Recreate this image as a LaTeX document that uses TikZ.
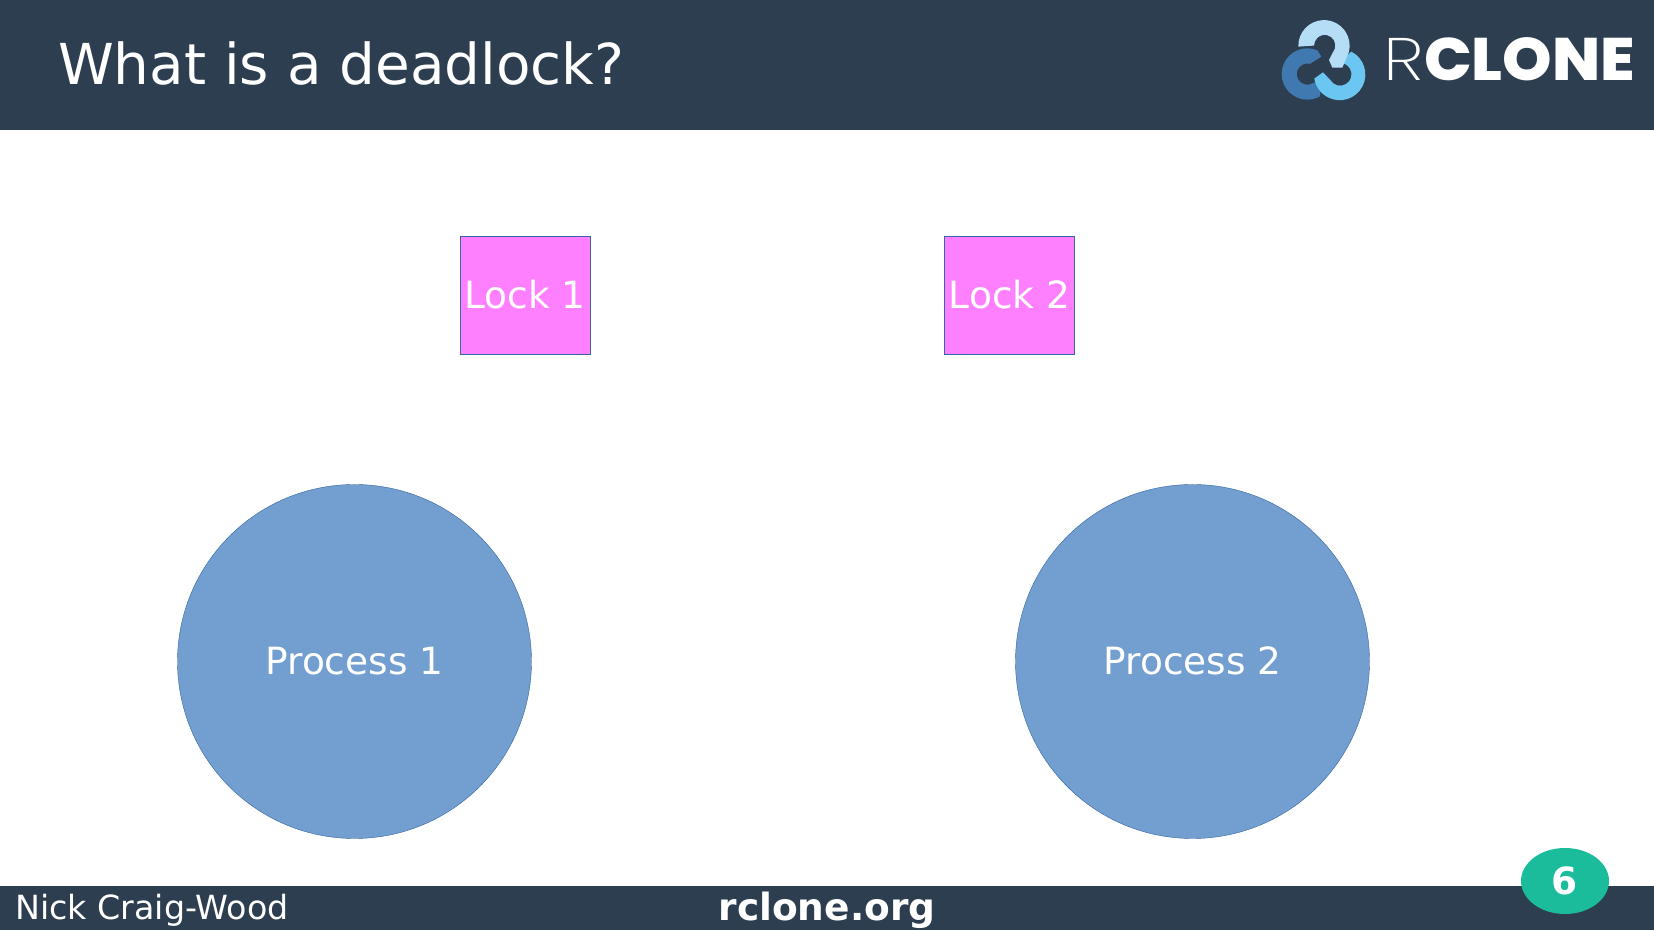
\documentclass[tikz,border=0pt]{standalone}
\usepackage{fontspec}
\usetikzlibrary{shapes.geometric}
\setmainfont{DejaVu Sans}
\newfontfamily\logothin{Poppins ExtraLight}
\newfontfamily\logobold{Poppins ExtraBold}
\definecolor{barblue}{HTML}{2D3E50}
\definecolor{lockpink}{HTML}{FF80FF}
\definecolor{procblue}{HTML}{729FCF}
\definecolor{edgeblue}{HTML}{3465A4}
\definecolor{pagegreen}{HTML}{1ABC9C}
\definecolor{logolight}{HTML}{B5DDF5}
\definecolor{logomid}{HTML}{3F79B0}
\definecolor{logocyan}{HTML}{6BC7F2}
\tikzset{
	lockbox/.style={draw=edgeblue, fill=lockpink, text=white, minimum width=130pt, minimum height=118pt, inner sep=0pt, font=\fontsize{37.5}{37.5}\selectfont},
	procnode/.style={draw=edgeblue, fill=procblue, text=white, circle, minimum size=354pt, inner sep=0pt, text depth=2pt, font=\fontsize{37.5}{37.5}\selectfont},
	bartext/.style={text=white, inner sep=0pt},
}
\begin{document}
\begin{tikzpicture}[x=1pt, y=1pt]
	\useasboundingbox (0,0) rectangle (1654,931);
	\fill[white] (0,0) rectangle (1654,931);
	% bars
	\fill[barblue] (0,801) rectangle (1653.5,931);
	\fill[barblue] (0,1) rectangle (1653.5,45);
	\node[bartext, anchor=base west, font=\fontsize{56.4}{56.4}\selectfont] (title) at (58,846) {What is a deadlock?};
	\node[bartext, anchor=base west, font=\fontsize{33.3}{33.3}\selectfont] (author) at (15,11.5) {Nick Craig-Wood};
	\node[bartext, anchor=base, font=\fontsize{37.5}{37.5}\selectfont\bfseries] (site) at (827,10.5) {rclone.org};

	% locks and processes
	\node[lockbox] (lock1) at (525,636) {Lock 1};
	\node[lockbox] (lock2) at (1009.5,636) {Lock 2};
	\node[procnode] (proc1) at (354.5,269.5) {Process 1};
	\node[procnode] (proc2) at (1192.5,269.5) {Process 2};

	% page number
	\node[ellipse, fill=pagegreen, text=white, minimum width=88pt, minimum height=66pt, inner sep=0pt, font=\fontsize{37.5}{37.5}\selectfont\bfseries] (pagenum) at (1565,50) {6};

	% logo
	\begin{scope}[shift={(1254,931)}, scale=1/3]
		\fill[logomid] (190,-151) arc (67:300:77) -- (200,-240) -- (176,-250) arc (-60:-285:32) -- (202,-170) -- cycle;
		\fill[logocyan] (292,-155) arc (63:-171:77) -- (207,-217) -- (229,-240) arc (-150:95:34) -- cycle;
		\fill[logolight] (133,-140) arc (182:-15:77) -- (265,-203) -- (235,-203) -- (225,-180) -- (243,-145) arc (-15:180:32) -- cycle;
	\end{scope}
	\node[bartext, anchor=base west, transform shape, xscale=1.2, font=\fontsize{60}{60}\selectfont\logothin] (logor) at (1383,850) {R};
	\node[bartext, anchor=base west, transform shape, xscale=1.05, font=\fontsize{60}{60}\selectfont\logobold] (logoc) at (1424,850) {CLONE};
\end{tikzpicture}
\end{document}
